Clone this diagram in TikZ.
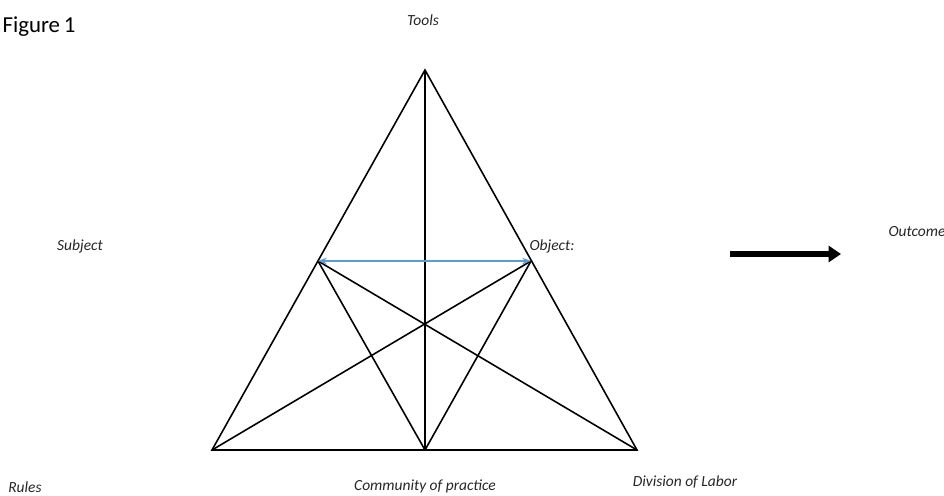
\documentclass[tikz,border=0pt]{standalone}
\usepackage{fontspec}
\setmainfont{Carlito}
\usetikzlibrary{arrows.meta, positioning}

\begin{document}
\begin{tikzpicture}[x=0.02cm, y=-0.02cm,
    edge/.style={line width=0.9pt, black},
    lbl/.style={font=\itshape\fontsize{8.8}{10}\selectfont, text=black!85, inner sep=0pt}]
    \useasboundingbox (0,0) rectangle (944,495);
    % Corners of the triangle
    \coordinate (apex) at (425,70);
    \coordinate (bl) at (212,450);
    \coordinate (bm) at (425,450);
    \coordinate (br) at (637,450);
    \coordinate (ml) at (318,261);
    \coordinate (mr) at (531,261);
    % Outline and inner lines
    \draw[edge] (apex) -- (bl) -- (br) -- cycle;
    \draw[edge] (apex) -- (bm);
    \draw[edge] (ml) -- (bm);
    \draw[edge] (ml) -- (br);
    \draw[edge] (mr) -- (bl);
    \draw[edge] (mr) -- (bm);
    \draw[{Stealth[length=5pt]}-{Stealth[length=5pt]}, line width=0.8pt, color={rgb,255:red,91;green,155;blue,213}] (ml) -- (mr);
    % Outcome arrow
    \coordinate (arrS) at (730,254);
    \coordinate (arrE) at (841,254);
    \draw[line width=3pt, -{Triangle[length=7pt, width=9pt]}] (arrS) -- (arrE);
    % Labels
    \node[inner sep=0pt, font=\fontsize{13}{15}\selectfont] (fig) at (39,27) {Figure\,1};
    \node[lbl] (tools) at (423,20) {Tools};
    \node[lbl] (subj) at (80,246) {Subject};
    \node[lbl] (obj) at (552,246) {Object:};
    \node[lbl] (outc) at (917,232) {Outcome};
    \node[lbl] (rules) at (25,487) {Rules};
    \node[lbl] (comm) at (425,486) {Community of practice};
    \node[lbl] (div) at (685,482) {Division of Labor};
\end{tikzpicture}
\end{document}
